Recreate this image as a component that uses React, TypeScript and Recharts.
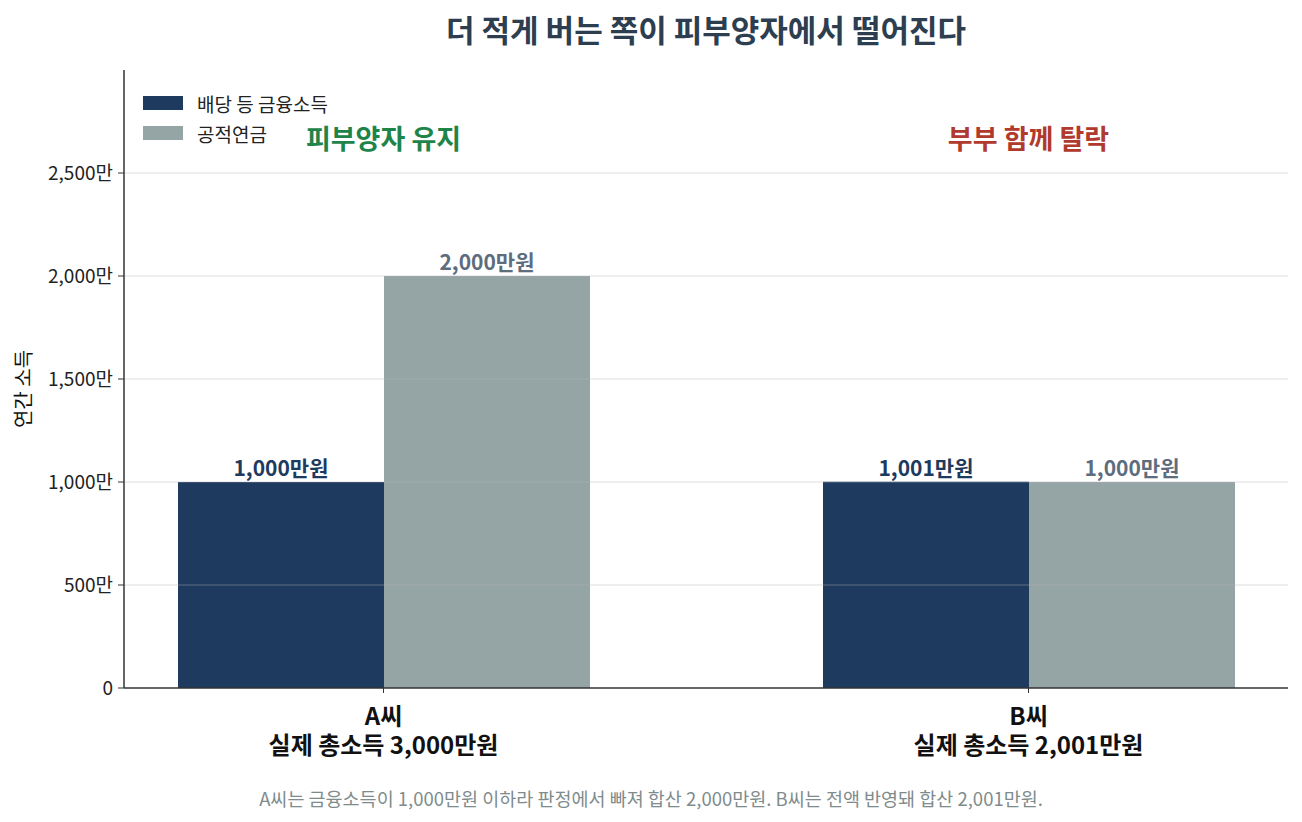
import React from "react";
import {
  BarChart,
  Bar,
  XAxis,
  YAxis,
  ReferenceLine,
  ReferenceDot,
  LabelList,
} from "recharts";

const categories = ["A씨", "B씨"];
const totalLabels = ["실제 총소득 3,000만원", "실제 총소득 2,001만원"];
const financialIncome = [1000, 1001];
const pensionIncome = [2000, 1000];
const yTicks = [0, 500, 1000, 1500, 2000, 2500];
const statusLabels = ["피부양자 유지", "부부 함께 탈락"];
const statusY = [2670, 2670];
const seriesNames = ["배당 등 금융소득", "공적연금"];

const NAVY = "#1e3a5f";
const GRAY = "#95a5a6";
const STATUS_COLORS = ["#1e8449", "#b03a2e"];
const FONT = '"Noto Sans CJK KR", "Noto Sans", sans-serif';

const data = categories.map((name, i) => ({
  name,
  total: totalLabels[i],
  fin: financialIncome[i],
  pen: pensionIncome[i],
}));

const won = (v: number) => `${v.toLocaleString("en-US")}만원`;
const man = (v: number) => (v === 0 ? "0" : `${v.toLocaleString("en-US")}만`);

function CategoryTick(props: any) {
  const { x, y, payload, index } = props;
  return (
    <g transform={`translate(${x},${y})`}>
      <text
        textAnchor="middle"
        fontFamily={FONT}
        fontWeight={700}
        fontSize={24}
        fill="#111"
      >
        <tspan x={0} y={30}>{payload.value}</tspan>
        <tspan x={0} y={59}>{totalLabels[index]}</tspan>
      </text>
    </g>
  );
}

function StatusLabel(i: number) {
  return (props: any) => {
    const { viewBox } = props;
    const cx = viewBox.x + (viewBox.width || 0) / 2;
    const cy = viewBox.y + (viewBox.height || 0) / 2;
    return (
      <text
        x={cx}
        y={cy}
        textAnchor="middle"
        dominantBaseline="central"
        fontFamily={FONT}
        fontWeight={700}
        fontSize={27}
        fill={STATUS_COLORS[i]}
      >
        {statusLabels[i]}
      </text>
    );
  };
}

export default function App() {
  return (
    <div
      style={{
        position: "absolute",
        left: 0,
        top: 0,
        width: 1302,
        height: 822,
        background: "#fff",
        fontFamily: FONT,
      }}
    >
      <BarChart
        width={1302}
        height={822}
        data={data}
        margin={{ top: 70, right: 14, bottom: 0, left: 0 }}
        barGap={0}
        barSize={206}
      >
        <XAxis
          dataKey="name"
          padding={{ left: -63, right: -63 }}
          height={134}
          tick={<CategoryTick />}
          axisLine={{ stroke: "#333", strokeWidth: 1.5 }}
          tickLine={{ stroke: "#333" }}
          tickSize={5}
          interval={0}
        />
        <YAxis
          width={124}
          domain={[0, 3000]}
          ticks={yTicks}
          tickFormatter={man}
          allowDataOverflow
          axisLine={{ stroke: "#333", strokeWidth: 1.5 }}
          tickLine={{ stroke: "#333" }}
          tickSize={6}
          tickMargin={5}
          tick={{ fill: "#222", fontSize: 19, fontFamily: FONT }}
        />
        <Bar dataKey="fin" fill={NAVY} isAnimationActive={false}>
          <LabelList
            dataKey="fin"
            position="top"
            offset={6}
            formatter={(v: any) => won(v)}
            fill={NAVY}
            fontWeight={700}
            fontSize={21}
            fontFamily={FONT}
          />
        </Bar>
        <Bar dataKey="pen" fill={GRAY} isAnimationActive={false}>
          <LabelList
            dataKey="pen"
            position="top"
            offset={6}
            formatter={(v: any) => won(v)}
            fill="#5d6d7e"
            fontWeight={700}
            fontSize={21}
            fontFamily={FONT}
          />
        </Bar>
        {yTicks.slice(1).map((t) => (
          <ReferenceLine
            key={t}
            y={t}
            stroke="#b0b0b0"
            strokeOpacity={0.22}
            strokeWidth={2}
          />
        ))}
        {categories.map((c, i) => (
          <ReferenceDot
            key={c}
            x={c}
            y={statusY[i]}
            r={0}
            stroke="none"
            fill="none"
            label={StatusLabel(i)}
          />
        ))}
      </BarChart>
      <svg
        width={1302}
        height={822}
        style={{ position: "absolute", left: 0, top: 0, pointerEvents: "none" }}
      >
        <text
          x={706}
          y={28}
          textAnchor="middle"
          dominantBaseline="central"
          fontFamily={FONT}
          fontWeight={700}
          fontSize={31}
          fill="#2c3e50"
        >
          더 적게 버는 쪽이 피부양자에서 떨어진다
        </text>
        <text
          transform="translate(22,389) rotate(-90)"
          textAnchor="middle"
          dominantBaseline="central"
          fontFamily={FONT}
          fontSize={20}
          fill="#111"
        >
          연간 소득
        </text>
        {seriesNames.map((s, i) => (
          <g key={s} transform={`translate(143,${96 + i * 30})`}>
            <rect width={40} height={14} fill={i === 0 ? NAVY : GRAY} />
            <text
              x={54}
              y={7}
              dominantBaseline="central"
              fontFamily={FONT}
              fontSize={19}
              fill="#222"
            >
              {s}
            </text>
          </g>
        ))}
        <text
          x={651}
          y={798}
          textAnchor="middle"
          dominantBaseline="central"
          fontFamily={FONT}
          fontSize={18.5}
          fill="#7f8c8d"
        >
          A씨는 금융소득이 1,000만원 이하라 판정에서 빠져 합산 2,000만원. B씨는 전액 반영돼 합산 2,001만원.
        </text>
      </svg>
    </div>
  );
}
